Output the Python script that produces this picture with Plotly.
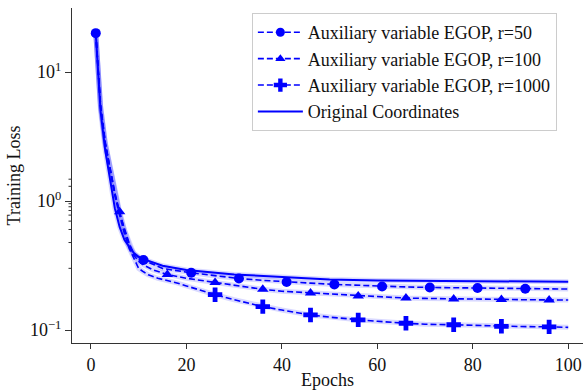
import math
import plotly.graph_objects as go

# ---- data ----
ep_r50 = [1, 2, 3, 4, 5, 6, 7, 8, 9, 10, 11, 15, 21, 26, 31, 36, 41, 46, 51, 56, 61, 66, 71, 76, 81, 86, 91, 100]
loss_r50 = [20, 5.5, 2.8, 1.8, 1.15, 0.80, 0.60, 0.47, 0.39, 0.365, 0.349, 0.30, 0.278, 0.263, 0.251, 0.243,
            0.236, 0.231, 0.226, 0.222, 0.218, 0.216, 0.214, 0.213, 0.212, 0.210, 0.209, 0.208]
mark_r50 = [1, 11, 21, 31, 41, 51, 61, 71, 81, 91]

ep_r100 = [1, 2, 3, 4, 5, 6, 7, 8, 9, 10, 11, 13, 16, 20, 26, 30, 36, 40, 46, 50, 56, 60, 66, 70, 76, 80, 86, 90, 96, 100]
loss_r100 = [20, 5.5, 2.8, 1.8, 1.15, 0.826, 0.60, 0.46, 0.38, 0.34, 0.32, 0.293, 0.27, 0.252, 0.234, 0.222,
             0.207, 0.200, 0.194, 0.190, 0.184, 0.181, 0.177, 0.176, 0.174, 0.173, 0.173, 0.172, 0.171, 0.171]
mark_r100 = [6, 16, 26, 36, 46, 56, 66, 76, 86, 96]

ep_r1000 = [1, 2, 3, 4, 5, 6, 7, 8, 9, 10, 11, 12, 14, 16, 18, 20, 22, 26, 30, 36, 40, 46, 50, 56, 60, 66, 70,
            76, 80, 86, 90, 96, 100]
loss_r1000 = [20, 5.3, 2.75, 1.75, 1.1, 0.78, 0.56, 0.43, 0.36, 0.30, 0.283, 0.268, 0.252, 0.243, 0.232, 0.22,
              0.208, 0.188, 0.172, 0.152, 0.143, 0.131, 0.126, 0.120, 0.117, 0.113, 0.111, 0.110, 0.109, 0.107,
              0.1065, 0.106, 0.105]
mark_r1000 = [26, 36, 46, 56, 66, 76, 86, 96]

ep_orig = [1, 2, 3, 4, 5, 6, 7, 8, 9, 10, 11, 15, 20, 30, 40, 50, 60, 70, 80, 90, 100]
loss_orig = [20, 5.0, 2.45, 1.45, 0.88, 0.63, 0.50, 0.443, 0.395, 0.37, 0.355, 0.315, 0.292, 0.27, 0.258,
             0.247, 0.242, 0.241, 0.240, 0.238, 0.237]

labels = ["Auxiliary variable EGOP, r=50", "Auxiliary variable EGOP, r=100",
          "Auxiliary variable EGOP, r=1000", "Original Coordinates"]
x_title = "Epochs"
y_title = "Training Loss"
x_ticks = [0, 20, 40, 60, 80, 100]
y_ticks = [0.1, 1, 10]
y_ticktext = ["10<sup>−1</sup>", "10<sup>0</sup>", "10<sup>1</sup>"]
y_minor = [0.08, 0.09, 0.2, 0.3, 0.4, 0.5, 0.6, 0.7, 0.8, 0.9, 2, 3, 4, 5, 6, 7, 8, 9, 20, 30]

BLUE = "#0000ff"
FONT = "Liberation Serif"
DASH = "6px,3px"
TXT = "#111111"
AX = "#333333"
Y_RANGE = [-1.10, 1.496]
PLOT_W = 583 - 72
MINOR_LEN_PX = 3.5

series = [
    (ep_r50, loss_r50, mark_r50, "circle", 10),
    (ep_r100, loss_r100, mark_r100, "triangle-up", 10),
    (ep_r1000, loss_r1000, mark_r1000, "cross", 12),
]

fig = go.Figure()
fig.add_trace(go.Scatter(x=ep_orig, y=loss_orig, mode="lines", showlegend=False,
                         line=dict(color="rgba(0,0,255,0.15)", width=5), hoverinfo="skip"))
for (ep, loss, marks, sym, ms), name in zip(series, labels[:3]):
    lookup = dict(zip(ep, loss))
    fig.add_trace(go.Scatter(x=ep, y=loss, mode="lines", showlegend=False,
                             line=dict(color="rgba(0,0,255,0.15)", width=5)))
    fig.add_trace(go.Scatter(x=ep, y=loss, mode="lines", showlegend=False,
                             line=dict(color=BLUE, width=1.6, dash=DASH)))
    fig.add_trace(go.Scatter(x=marks, y=[lookup[m] for m in marks], mode="markers", showlegend=False,
                             marker=dict(color=BLUE, symbol=sym, size=ms, line=dict(width=0))))
    fig.add_trace(go.Scatter(x=[None], y=[None], mode="lines+markers", name=name,
                             line=dict(color=BLUE, width=1.6, dash=DASH),
                             marker=dict(color=BLUE, symbol=sym, size=ms - 1, line=dict(width=0))))

fig.add_trace(go.Scatter(x=ep_orig, y=loss_orig, mode="lines", name=labels[3],
                         line=dict(color=BLUE, width=2)))

# minor ticks of the log axis (shapes on log axes take log10 positions)
for v in y_minor:
    fig.add_shape(type="line", xref="paper", yref="y",
                  x0=-MINOR_LEN_PX / PLOT_W, x1=0, y0=math.log10(v), y1=math.log10(v),
                  line=dict(color=AX, width=1), layer="above")

fig.update_layout(
    width=583, height=390,
    margin=dict(l=72, r=0, t=8, b=47),
    paper_bgcolor="white", plot_bgcolor="white",
    font=dict(family=FONT, size=18, color=TXT),
    xaxis=dict(range=[-3.98, 103.1], tickvals=x_ticks, showgrid=False, zeroline=False,
               showline=True, linecolor=AX, linewidth=1, ticks="outside", ticklen=5,
               tickcolor=AX, tickwidth=1, tickfont=dict(family=FONT, size=18, color=TXT),
               title=dict(text=x_title, font=dict(family=FONT, size=18, color=TXT), standoff=2)),
    yaxis=dict(type="log", range=Y_RANGE, tickmode="array", tickvals=y_ticks, ticktext=y_ticktext,
               showgrid=False, zeroline=False, showline=True, linecolor=AX, linewidth=1,
               ticks="outside", ticklen=6, tickcolor=AX, tickwidth=1,
               tickfont=dict(family=FONT, size=18, color=TXT),
               title=dict(text=y_title, font=dict(family=FONT, size=18, color=TXT), standoff=4)),
    legend=dict(x=0.352, y=0.985, xanchor="left", yanchor="top", itemwidth=45,
                bgcolor="rgba(255,255,255,0.8)", bordercolor="#cccccc", borderwidth=1,
                font=dict(family=FONT, size=18, color=TXT), tracegroupgap=0),
)

fig.write_html("out.html")
